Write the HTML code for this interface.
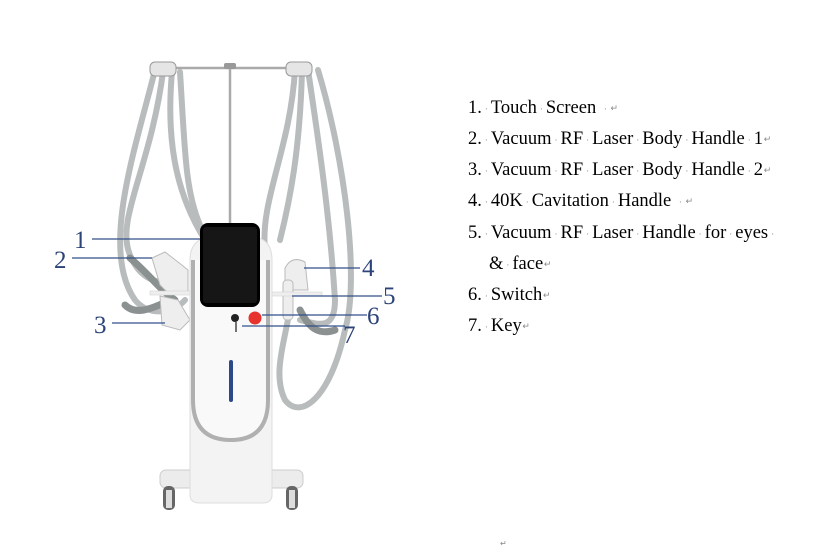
<!DOCTYPE html>
<html><head><style>
html,body{margin:0;padding:0;background:#fff;width:814px;height:551px;overflow:hidden}
.t{position:absolute;left:468px;font-family:"Liberation Serif",serif;font-size:18.5px;color:#000;white-space:nowrap}
.m{color:#888;font-size:9px;display:inline-block;width:9px;text-align:center;vertical-align:middle}
</style></head><body>
<svg width="814" height="551" style="position:absolute;left:0;top:0">
<g fill="none" stroke-linecap="round">
<g stroke="#b9bcbd" stroke-width="6">
<path d="M155 70 C135 150 100 250 135 300 C150 318 175 312 185 300"/>
<path d="M163 72 C150 170 115 220 130 255 C140 280 160 285 170 280"/>
<path d="M172 72 C165 150 180 200 205 240"/>
<path d="M180 72 C185 150 185 190 200 225"/>
<path d="M295 70 C290 150 260 200 265 250"/>
<path d="M302 70 C300 150 290 200 280 240"/>
<path d="M308 70 C320 150 330 220 335 300 C335 330 320 325 300 320"/>
<path d="M318 70 C345 160 360 280 345 330 C330 400 300 420 285 400 C270 370 290 330 290 300"/>
</g>
<g stroke="#8b9090" stroke-width="7">
<path d="M130 258 C150 275 160 290 175 300"/>
<path d="M170 300 C150 310 135 315 125 305"/>
<path d="M300 310 C310 330 320 335 335 330"/>
</g>
<path d="M158 68 L302 68" stroke="#aaa" stroke-width="2.5"/>
<path d="M230 68 L230 225" stroke="#aaa" stroke-width="2.5"/>
</g>
<rect x="224" y="63" width="12" height="6" rx="2" fill="#999"/>
<rect x="150" y="62" width="26" height="14" rx="5" fill="#e5e5e5" stroke="#999"/>
<rect x="286" y="62" width="26" height="14" rx="5" fill="#e5e5e5" stroke="#999"/>
<path d="M152 258 L165 252 L178 262 L188 270 L188 292 L170 295 L160 285 Z" fill="#eee" stroke="#bbb"/>
<path d="M160 296 L178 300 L190 320 L180 330 L162 325 Z" fill="#eee" stroke="#bbb"/>
<rect x="150" y="291" width="55" height="4" fill="#eee" stroke="#ccc" stroke-width=".5"/>
<path d="M285 268 Q292 255 305 262 L308 290 L285 290 Z" fill="#eee" stroke="#bbb"/>
<rect x="283" y="280" width="10" height="40" rx="4" fill="#eee" stroke="#bbb"/>
<rect x="262" y="292" width="60" height="4" fill="#eee" stroke="#ccc" stroke-width=".5"/>
<rect x="160" y="470" width="143" height="18" rx="6" fill="#ececec" stroke="#ccc"/>
<rect x="163" y="486" width="12" height="24" rx="5" fill="#666"/>
<rect x="166" y="490" width="6" height="18" fill="#ddd"/>
<rect x="286" y="486" width="12" height="24" rx="5" fill="#666"/>
<rect x="289" y="490" width="6" height="18" fill="#ddd"/>
<path d="M190 260 Q190 238 212 237 L252 237 Q272 238 272 260 L272 495 Q272 503 262 503 L200 503 Q190 503 190 495 Z" fill="#f3f3f3" stroke="#ddd"/>
<path d="M193 260 L193 400 Q193 440 231 440 Q268 440 268 400 L268 260" fill="#f9f9f9" stroke="#b0b0b0" stroke-width="4"/>
<rect x="229" y="360" width="4" height="42" rx="2" fill="#2c4a8a"/>
<rect x="200" y="223" width="60" height="84" rx="8" fill="#000"/>
<rect x="203" y="227" width="54" height="76" rx="3" fill="#161616"/>
<circle cx="235" cy="318" r="4" fill="#222"/>
<path d="M236 322 L236 332" stroke="#444" stroke-width="1.5"/>
<circle cx="255" cy="318" r="6.5" fill="#e8322e"/>
<g stroke="#33508a" stroke-width="1.2">
<path d="M92 239 L200 239"/><path d="M72 258 L152 258"/><path d="M112 323 L165 323"/>
<path d="M304 268 L360 268"/><path d="M292 296 L382 296"/><path d="M262 315 L367 315"/><path d="M242 326 L345 326"/>
</g>
<g font-family="Liberation Serif,serif" font-size="25" fill="#2c4478">
<text x="74" y="248">1</text><text x="54" y="268">2</text><text x="94" y="333">3</text>
<text x="362" y="276">4</text><text x="383" y="304">5</text><text x="367" y="324">6</text><text x="343" y="343">7</text>
</g>
<text x="500" y="546" font-size="8" fill="#888">↵</text>
</svg>
<div class="t" style="top:98px">1.<span class="m">·</span>Touch<span class="m">·</span>Screen <span class="m">·</span><span class="m">↵</span></div>
<div class="t" style="top:129px">2.<span class="m">·</span>Vacuum<span class="m">·</span>RF<span class="m">·</span>Laser<span class="m">·</span>Body<span class="m">·</span>Handle<span class="m">·</span>1<span class="m">↵</span></div>
<div class="t" style="top:160px">3.<span class="m">·</span>Vacuum<span class="m">·</span>RF<span class="m">·</span>Laser<span class="m">·</span>Body<span class="m">·</span>Handle<span class="m">·</span>2<span class="m">↵</span></div>
<div class="t" style="top:191px">4.<span class="m">·</span>40K<span class="m">·</span>Cavitation<span class="m">·</span>Handle <span class="m">·</span><span class="m">↵</span></div>
<div class="t" style="top:223px">5.<span class="m">·</span>Vacuum<span class="m">·</span>RF<span class="m">·</span>Laser<span class="m">·</span>Handle<span class="m">·</span>for<span class="m">·</span>eyes<span class="m">·</span></div>
<div class="t" style="top:254px;left:489px">&amp;<span class="m">·</span>face<span class="m">↵</span></div>
<div class="t" style="top:285px">6.<span class="m">·</span>Switch<span class="m">↵</span></div>
<div class="t" style="top:316px">7.<span class="m">·</span>Key<span class="m">↵</span></div>
</body></html>
